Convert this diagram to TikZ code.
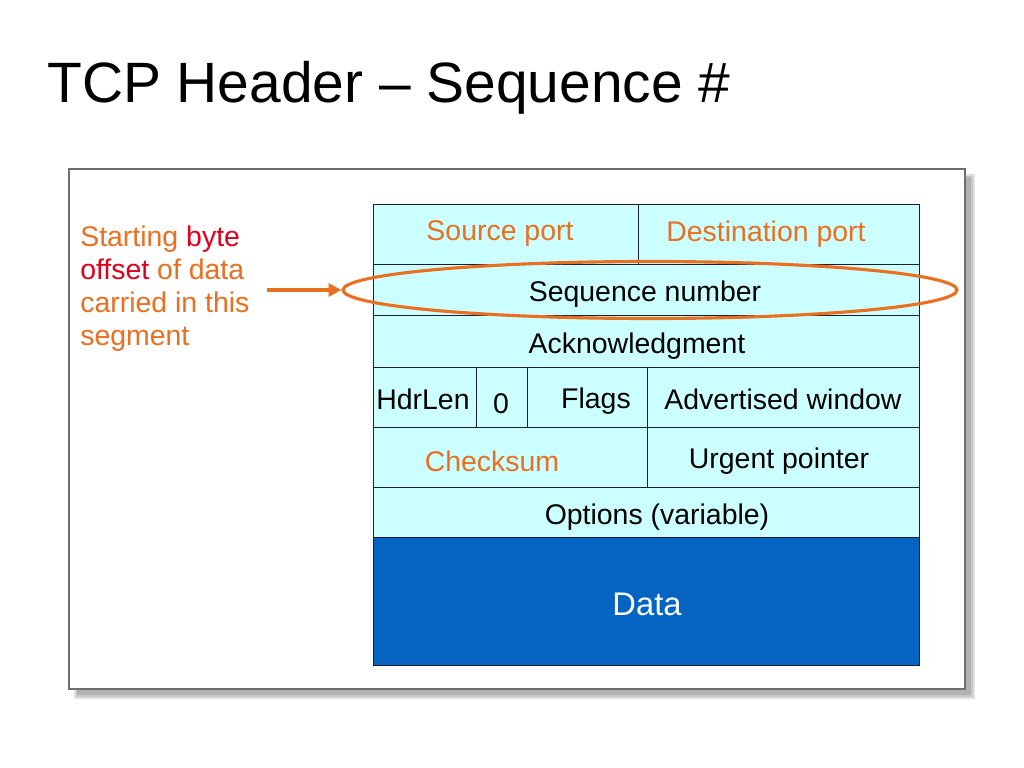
\documentclass[tikz,border=0pt]{standalone}
\usepackage{fontspec}
\setmainfont{Liberation Sans}
\usetikzlibrary{shapes.geometric,arrows.meta}
\definecolor{orng}{RGB}{232,112,32}
\definecolor{redt}{RGB}{222,0,28}
\definecolor{cellc}{RGB}{204,255,255}
\definecolor{datac}{RGB}{5,99,193}
\definecolor{linec}{RGB}{30,30,50}
\definecolor{framec}{RGB}{110,110,110}
\tikzset{
  x=0.703125pt, y=-0.703125pt,
  cell/.style={draw=linec, fill=cellc, line width=0.7pt, inner sep=0pt, anchor=north west},
  lbl/.style={inner sep=0pt, font=\fontsize{20}{24}\selectfont, text=black},
  olbl/.style={lbl, text=orng},
}
\begin{document}
\begin{tikzpicture}
\useasboundingbox (0,0) rectangle (1024,768);
% frame with shadow
\fill[black!12] (74,174) rectangle (975,699);
\fill[black!22] (76,176) rectangle (973,697);
\fill[black!30] (77,177) rectangle (971,695);
\draw[framec, fill=white, line width=0.8pt] (69,169) rectangle (965,689);
% title
\node[anchor=base west, inner sep=0pt, font=\fontsize{40}{46}\selectfont] (title) at (47,103) {TCP Header – Sequence \#};
% table cells
\node[cell, minimum width=265*0.703125pt, minimum height=60*0.703125pt] (src) at (373,204) {};
\node[cell, minimum width=281*0.703125pt, minimum height=60*0.703125pt] (dst) at (638,204) {};
\node[cell, minimum width=546*0.703125pt, minimum height=51*0.703125pt] (seq) at (373,264) {};
\node[cell, minimum width=546*0.703125pt, minimum height=52*0.703125pt] (ack) at (373,315) {};
\node[cell, minimum width=103*0.703125pt, minimum height=60*0.703125pt] (hdr) at (373,367) {};
\node[cell, minimum width=51*0.703125pt, minimum height=60*0.703125pt] (zero) at (476,367) {};
\node[cell, minimum width=120*0.703125pt, minimum height=60*0.703125pt] (flags) at (527,367) {};
\node[cell, minimum width=272*0.703125pt, minimum height=60*0.703125pt] (win) at (647,367) {};
\node[cell, minimum width=274*0.703125pt, minimum height=60*0.703125pt] (cks) at (373,427) {};
\node[cell, minimum width=272*0.703125pt, minimum height=60*0.703125pt] (urg) at (647,427) {};
\node[cell, minimum width=546*0.703125pt, minimum height=50*0.703125pt] (opt) at (373,487) {};
\node[cell, fill=datac, minimum width=546*0.703125pt, minimum height=128*0.703125pt] (data) at (373,537) {};
% labels
\node[olbl] (tsrc) at (500,234) {Source port};
\node[olbl] (tdst) at (766,234) {Destination port};
\node[lbl] (tseq) at (645,294) {Sequence number};
\node[lbl] (tack) at (637,346) {Acknowledgment};
\node[lbl] (thdr) at (423,399) {HdrLen};
\node[lbl] (tzero) at (501,404) {0};
\node[lbl] (tflags) at (596,401) {Flags};
\node[lbl] (twin) at (783,399) {Advertised window};
\node[olbl] (tcks) at (492,461) {Checksum};
\node[lbl] (turg) at (779,461) {Urgent pointer};
\node[lbl] (topt) at (657,517) {Options (variable)};
\node[lbl, text=white, font=\fontsize{23}{27}\selectfont] (tdata) at (647,604) {Data};
% left note
\node[anchor=north west, inner sep=0pt, align=left, text=orng, font=\fontsize{20}{23.2}\selectfont] (note) at (80,226)
  {Starting \textcolor{redt}{byte}\\ \textcolor{redt}{offset} of data\\ carried in this\\ segment};
% highlight ellipse and arrow
\node[ellipse, draw=orng, line width=2.2pt, minimum width=614*0.703125pt, minimum height=57*0.703125pt, inner sep=0pt] (oval) at (650,290) {};
\coordinate (astart) at (267,290);
\draw[orng, line width=2.2pt, -{Triangle[length=9pt,width=9pt]}] (astart) -- (oval.west);
\end{tikzpicture}
\end{document}
